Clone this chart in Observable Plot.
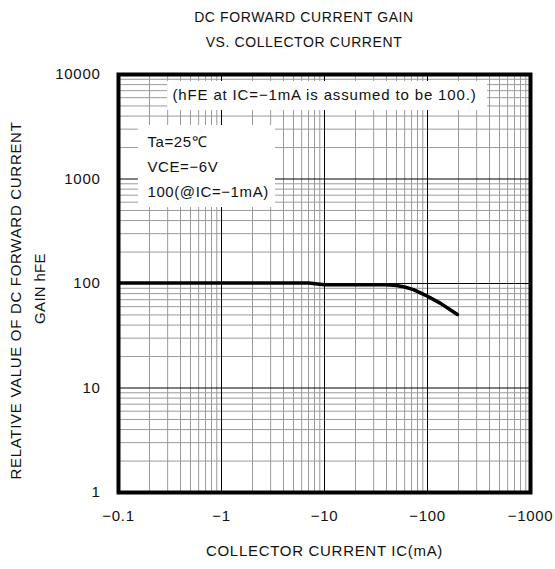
<!DOCTYPE html>
<html>
<head>
<meta charset="utf-8">
<script src="https://cdn.jsdelivr.net/npm/d3@7"></script>
<script src="https://cdn.jsdelivr.net/npm/@observablehq/plot@0.6"></script>
<style>
  body { margin: 0; background: #fff; font-family: "Liberation Sans", Arial, sans-serif; }
  #wrap { position: relative; width: 555px; height: 569px; }
  #title { position: relative; width: 555px; height: 60px; color: #111; font-size: 14px; letter-spacing: 0.6px; }
  #title div { position: absolute; left: 0; width: 608px; text-align: center; line-height: 20px; }
  g[aria-description="note-top"] text { letter-spacing: 0.85px; }
  g[aria-description="note-cond"] text { letter-spacing: 0.6px; }
  g[aria-description="tick-x"] text { letter-spacing: 0.7px; }
  g[aria-description="tick-y"] text { letter-spacing: 0.7px; }
  g[aria-description="title-x"] text { letter-spacing: 0.7px; }
  g[aria-description="title-y1"] text { letter-spacing: 0.7px; }
  g[aria-description="title-y2"] text { letter-spacing: 0.3px; }
</style>
</head>
<body>
<div id="wrap">
  <div id="title">
    <div style="top:7px">DC FORWARD CURRENT GAIN</div>
    <div style="top:32px">VS. COLLECTOR CURRENT</div>
  </div>
  <div id="chart"></div>
</div>
<script>
// Data
const ic  = [0.1, 7, 10, 40, 50, 60, 73, 95, 134, 195];
const hfe = [101, 101, 97.5, 97.5, 95.5, 92.5, 87.5, 77.5, 64.5, 50.5];

const xTicks = [0.1, 1, 10, 100, 1000];
const yTicks = [1, 10, 100, 1000, 10000];
const xTickLabels = ["\u22120.1", "\u22121", "\u221210", "\u2212100", "\u22121000"];
const yTickLabels = ["1", "10", "100", "1000", "10000"];
const multiples = [2, 3, 4, 5, 6, 7, 8, 9];

const noteTop = ["(hFE at IC=\u22121mA is assumed to be 100.)"];
const noteCond = ["Ta=25\u2103", "VCE=\u22126V", "100(@IC=\u22121mA)"];
// annotation anchor positions in data units
const noteTopBox = {x1: 0.30, x2: 383, y1: 4520, y2: 8575, x: 10, y: 6300};
const noteCondBox = {x1: 0.156, x2: 3.34, y1: 533, y2: 3250, x: 0.191};
const noteCondY = [2234, 1288, 743];

const xTitle = "COLLECTOR CURRENT IC(mA)";
const yTitle1 = "RELATIVE VALUE OF DC FORWARD CURRENT";
const yTitle2 = "GAIN hFE";

const curve = ic.map((v, i) => ({ic: v, hfe: hfe[i]}));
const xMinor = xTicks.slice(0, -1).flatMap(d => multiples.map(m => d * m));
const yMinor = yTicks.slice(0, -1).flatMap(d => multiples.map(m => d * m));

const font = "Liberation Sans, Arial, sans-serif";

const chart = Plot.plot({
  width: 555,
  height: 509,
  marginTop: 14,
  marginBottom: 77,
  marginLeft: 118,
  marginRight: 25,
  style: {fontFamily: font, fontSize: "14px", color: "#111", background: "#fff", overflow: "visible"},
  x: {type: "log", domain: [0.1, 1000], axis: null},
  y: {type: "log", domain: [1, 10000], axis: null},
  marks: [
    Plot.ruleX(xMinor, {stroke: "#9a9a9a", strokeWidth: 1}),
    Plot.ruleY(yMinor, {stroke: "#9a9a9a", strokeWidth: 1}),
    Plot.ruleX(xTicks, {stroke: "#000", strokeWidth: 1}),
    Plot.ruleY(yTicks, {stroke: "#000", strokeWidth: 1}),
    // annotation boxes
    Plot.rect([noteTopBox], {x1: "x1", x2: "x2", y1: "y1", y2: "y2", fill: "#fff"}),
    Plot.rect([noteCondBox], {x1: "x1", x2: "x2", y1: "y1", y2: "y2", fill: "#fff"}),
    Plot.text(noteTop, {x: () => noteTopBox.x, y: () => noteTopBox.y, text: d => d, fontSize: 15, fill: "#111", textAnchor: "middle", ariaDescription: "note-top"}),
    Plot.text(noteCond, {x: () => noteCondBox.x, y: (d, i) => noteCondY[i], text: d => d, fontSize: 15, fill: "#111", textAnchor: "start", ariaDescription: "note-cond"}),
    // curve
    Plot.line(curve, {x: "ic", y: "hfe", stroke: "#000", strokeWidth: 3.5, strokeLinejoin: "round"}),
    Plot.frame({stroke: "#000", strokeWidth: 4}),
    // tick labels
    Plot.text(xTicks, {x: d => d, frameAnchor: "bottom", dy: 28, text: (d, i) => xTickLabels[i], fontSize: 15, fill: "#111", ariaDescription: "tick-x"}),
    Plot.text(yTicks, {y: d => d, frameAnchor: "left", dx: -18, textAnchor: "end", text: (d, i) => yTickLabels[i], fontSize: 15, fill: "#111", ariaDescription: "tick-y"}),
    // axis titles
    Plot.text([xTitle], {frameAnchor: "bottom", dy: 63, text: d => d, fontSize: 15, fill: "#111", ariaDescription: "title-x"}),
    Plot.text([yTitle1], {frameAnchor: "left", dx: -102, dy: 17, rotate: -90, textAnchor: "middle", text: d => d, fontSize: 15, fill: "#111", ariaDescription: "title-y1"}),
    Plot.text([yTitle2], {frameAnchor: "left", dx: -78, dy: 5, rotate: -90, textAnchor: "middle", text: d => d, fontSize: 15, fill: "#111", ariaDescription: "title-y2"})
  ]
});
document.getElementById("chart").appendChild(chart);
</script>
</body>
</html>
